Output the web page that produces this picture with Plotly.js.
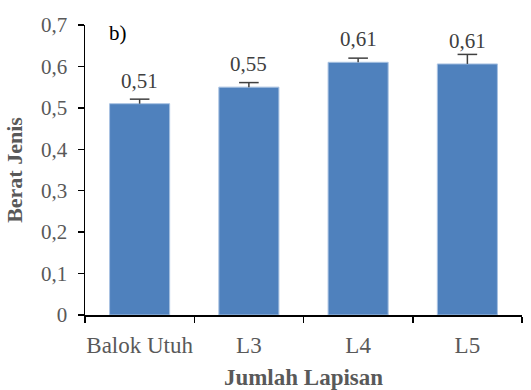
<!DOCTYPE html>
<html>
<head>
<meta charset="utf-8">
<script src="https://cdn.plot.ly/plotly-3.0.1.min.js"></script>
<style>html,body{margin:0;padding:0;background:#fff;}#chart{width:531px;height:390px;}</style>
</head>
<body>
<div id="chart"></div>
<script>
var categories = ["Balok Utuh", "L3", "L4", "L5"];
var values = [0.51, 0.55, 0.61, 0.606];
var errors = [0.011, 0.011, 0.010, 0.023];
var valueLabels = ["0,51", "0,55", "0,61", "0,61"];
var yTickVals = [0, 0.1, 0.2, 0.3, 0.4, 0.5, 0.6, 0.7];
var yTickText = ["0", "0,1", "0,2", "0,3", "0,4", "0,5", "0,6", "0,7"];

var font = "'Times New Roman', 'Liberation Serif', serif";

var barTrace = {
  type: "bar",
  x: categories,
  y: values,
  marker: {color: "#4F81BD", line: {color: "#A9C2E2", width: 1}},
  error_y: {type: "data", symmetric: false, array: errors, arrayminus: errors.map(function(){return 0;}),
            color: "#404040", thickness: 1.5, width: 0},
  hoverinfo: "none"
};

var capTrace = {
  type: "scatter",
  mode: "markers",
  x: categories,
  y: values.map(function(v, i){ return v + errors[i]; }),
  marker: {symbol: "line-ew", size: 14, line: {color: "#404040", width: 1.5}},
  hoverinfo: "none"
};

var annotations = categories.map(function(c, i){
  return {x: c, y: values[i], xref: "x", yref: "y", text: valueLabels[i], showarrow: false,
          yanchor: "middle", yshift: 23, font: {family: font, size: 21, color: "#404040"}};
});
annotations.push({x: 0.05, y: 1.02, xref: "paper", yref: "paper", text: "b)", showarrow: false,
  xanchor: "left", yanchor: "top", font: {family: font, size: 21, color: "#000000"}});

var layout = {
  width: 531, height: 390,
  margin: {l: 85, r: 9, t: 25, b: 75},
  paper_bgcolor: "#ffffff", plot_bgcolor: "#ffffff",
  bargap: 0.45,
  showlegend: false,
  font: {family: font, size: 21, color: "#595959"},
  xaxis: {
    type: "category", range: [-0.5, 3.5], tickson: "boundaries",
    showline: true, linecolor: "#000000", linewidth: 1.5,
    ticks: "outside", ticklen: 6, tickwidth: 1.5, tickcolor: "#000000",
    ticklabelstandoff: 9, tickangle: 0,
    showgrid: false, zeroline: false,
    tickfont: {family: font, size: 23, color: "#595959"},
    title: {text: "<b>Jumlah Lapisan</b>", font: {family: font, size: 23, color: "#595959"}, standoff: 15}
  },
  yaxis: {
    range: [0, 0.7], tickvals: yTickVals, ticktext: yTickText,
    showline: true, linecolor: "#000000", linewidth: 1.5,
    ticks: "outside", ticklen: 6, tickwidth: 1.5, tickcolor: "#000000",
    ticklabelstandoff: 6,
    showgrid: false, zeroline: false,
    tickfont: {family: font, size: 21, color: "#595959"},
    title: {text: "<b>Berat Jenis</b>", font: {family: font, size: 22, color: "#595959"}, standoff: 12}
  },
  annotations: annotations
};

Plotly.newPlot("chart", [barTrace, capTrace], layout, {displayModeBar: false, staticPlot: true});
</script>
</body>
</html>
